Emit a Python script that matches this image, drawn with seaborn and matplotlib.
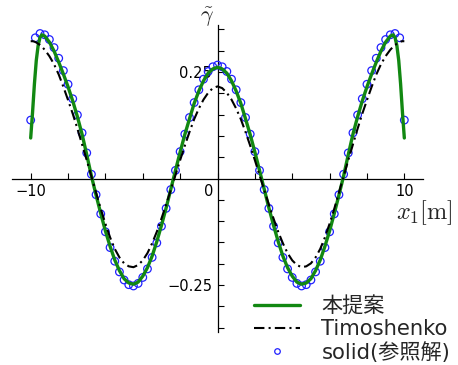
import numpy as np
import matplotlib
matplotlib.use("Agg")
import matplotlib.pyplot as plt
import matplotlib.transforms as mtransforms
from matplotlib.lines import Line2D
import seaborn as sns

# values
x_line = [-10.0, -9.9, -9.8, -9.7, -9.6, -9.5, -9.4, -9.25, -9.0, -8.75, -8.5, -8.25,
          -8.0, -7.75, -7.5, -7.25, -7.0, -6.75, -6.5, -6.25, -6.0, -5.75, -5.5, -5.25,
          -5.0, -4.75, -4.5, -4.25, -4.0, -3.75, -3.5, -3.25, -3.0, -2.75, -2.5, -2.25,
          -2.0, -1.75, -1.5, -1.25, -1.0, -0.75, -0.5, -0.25, 0.0,
          0.25, 0.5, 0.75, 1.0, 1.25, 1.5, 1.75, 2.0, 2.25, 2.5, 2.75, 3.0,
          3.25, 3.5, 3.75, 4.0, 4.25, 4.5, 4.75, 5.0, 5.25, 5.5, 5.75, 6.0,
          6.25, 6.5, 6.75, 7.0, 7.25, 7.5, 7.75, 8.0, 8.25, 8.5, 8.75, 9.0,
          9.25, 9.4, 9.5, 9.6, 9.7, 9.8, 9.9, 10.0]

gamma_prop = [0.095, 0.155, 0.222, 0.277, 0.312, 0.331, 0.337, 0.334, 0.320, 0.299, 0.273, 0.245,
              0.215, 0.182, 0.145, 0.104, 0.056, 0.006, -0.039, -0.082, -0.123, -0.159, -0.191, -0.216,
              -0.235, -0.245, -0.248, -0.243, -0.229, -0.209, -0.182, -0.148, -0.110, -0.069, -0.025, 0.019,
              0.062, 0.103, 0.140, 0.176, 0.205, 0.229, 0.247, 0.257, 0.261,
              0.257, 0.247, 0.229, 0.205, 0.176, 0.140, 0.103, 0.062, 0.019, -0.025, -0.069, -0.110,
              -0.148, -0.182, -0.209, -0.229, -0.243, -0.248, -0.245, -0.235, -0.216, -0.191, -0.159, -0.123,
              -0.082, -0.039, 0.006, 0.056, 0.104, 0.145, 0.182, 0.215, 0.245, 0.273, 0.299, 0.320,
              0.334, 0.337, 0.331, 0.312, 0.277, 0.222, 0.155, 0.095]

gamma_timo = [0.322, 0.322, 0.321, 0.319, 0.316, 0.313, 0.309, 0.302, 0.287, 0.268, 0.244, 0.215,
              0.184, 0.152, 0.117, 0.080, 0.043, 0.005, -0.033, -0.071, -0.106, -0.138, -0.165, -0.185,
              -0.199, -0.206, -0.208, -0.203, -0.192, -0.175, -0.152, -0.125, -0.094, -0.061, -0.027, 0.008,
              0.043, 0.077, 0.109, 0.139, 0.164, 0.185, 0.201, 0.212, 0.216,
              0.212, 0.201, 0.185, 0.164, 0.139, 0.109, 0.077, 0.043, 0.008, -0.027, -0.061, -0.094,
              -0.125, -0.152, -0.175, -0.192, -0.203, -0.208, -0.206, -0.199, -0.185, -0.165, -0.138, -0.106,
              -0.071, -0.033, 0.005, 0.043, 0.080, 0.117, 0.152, 0.184, 0.215, 0.244, 0.268, 0.287,
              0.302, 0.309, 0.313, 0.316, 0.319, 0.321, 0.322, 0.322]

x_solid = [-10.0, -9.75, -9.5, -9.25, -9.0, -8.75, -8.5, -8.25, -8.0, -7.75, -7.5, -7.25,
           -7.0, -6.75, -6.5, -6.25, -6.0, -5.75, -5.5, -5.25, -5.0, -4.75, -4.5, -4.25,
           -4.0, -3.75, -3.5, -3.25, -3.0, -2.75, -2.5, -2.25, -2.0, -1.75, -1.5, -1.25,
           -1.0, -0.75, -0.5, -0.25, 0.0,
           0.25, 0.5, 0.75, 1.0, 1.25, 1.5, 1.75, 2.0, 2.25, 2.5, 2.75, 3.0,
           3.25, 3.5, 3.75, 4.0, 4.25, 4.5, 4.75, 5.0, 5.25, 5.5, 5.75, 6.0,
           6.25, 6.5, 6.75, 7.0, 7.25, 7.5, 7.75, 8.0, 8.25, 8.5, 8.75, 9.0,
           9.25, 9.5, 9.75, 10.0]

gamma_solid = [0.137, 0.330, 0.340, 0.337, 0.326, 0.307, 0.282, 0.253, 0.221, 0.187, 0.149, 0.107,
               0.060, 0.010, -0.038, -0.083, -0.125, -0.162, -0.194, -0.219, -0.238, -0.249, -0.252, -0.246,
               -0.232, -0.212, -0.185, -0.151, -0.112, -0.070, -0.026, 0.019, 0.063, 0.104, 0.143, 0.178,
               0.208, 0.233, 0.251, 0.262, 0.266,
               0.262, 0.251, 0.233, 0.208, 0.178, 0.143, 0.104, 0.063, 0.019, -0.026, -0.070, -0.112,
               -0.151, -0.185, -0.212, -0.232, -0.246, -0.252, -0.249, -0.238, -0.219, -0.194, -0.162, -0.125,
               -0.083, -0.038, 0.010, 0.060, 0.107, 0.149, 0.187, 0.221, 0.253, 0.282, 0.307, 0.326,
               0.337, 0.340, 0.330, 0.137]

labels = ["本提案", "Timoshenko", "solid(参照解)"]
x_major = [-10, 0, 10]
x_minor = [-8, -6, -4, -2, 2, 4, 6, 8]
y_major = [-0.25, 0.25]
y_minor = [-0.35, -0.3, -0.2, -0.15, -0.1, -0.05, 0.05, 0.1, 0.15, 0.2, 0.3, 0.35]

sns.set_theme(style="white")
plt.rcParams['font.family'] = ['DejaVu Sans', 'Noto Sans CJK JP']
plt.rcParams['mathtext.fontset'] = 'cm'
plt.rcParams['axes.unicode_minus'] = True

green = "#128812"
blue = "#2020ff"
dashdot = (0, (5, 2, 1, 2))

fig = plt.figure(figsize=(4.58, 3.65), dpi=100)
ax = fig.add_axes([0.0262, 0.0904, 0.8974, 0.8411])

sns.scatterplot(x=x_solid, y=gamma_solid, ax=ax, marker='o', s=30,
                facecolor='none', edgecolor=blue, linewidth=0.9, zorder=3)
sns.lineplot(x=x_line, y=gamma_prop, ax=ax, color=green, lw=2.4, zorder=4)
sns.lineplot(x=x_line, y=gamma_timo, ax=ax, color='black', lw=1.5,
             linestyle=dashdot, zorder=5)

ax.set_xlim(-11, 11)
ax.set_ylim(-0.36, 0.36)
for s in ['top', 'right']:
    ax.spines[s].set_visible(False)
ax.spines['left'].set_position(('data', 0))
ax.spines['bottom'].set_position(('data', 0))
for s in ['left', 'bottom']:
    ax.spines[s].set_color('black')
    ax.spines[s].set_linewidth(0.9)

ax.set_xticks(x_major)
ax.set_xticklabels(['\u221210', '0', '10'])
ax.set_xticks(x_minor, minor=True)
ax.set_yticks(y_major)
ax.set_yticklabels(['\u22120.25', '0.25'])
ax.set_yticks(y_minor, minor=True)
ax.tick_params(which='both', bottom=True, left=True, direction='in',
               length=4, width=0.8, color='black')
ax.tick_params(axis='both', which='major', labelsize=10.5, labelcolor='black')
ax.tick_params(axis='x', which='major', pad=4)
ax.tick_params(axis='y', which='major', pad=4)

zero_lab = ax.get_xticklabels()[1]
zero_lab.set_ha('right')
zero_lab.set_transform(zero_lab.get_transform() +
                       mtransforms.ScaledTranslation(-3 / 72, 0, fig.dpi_scale_trans))

ax.text(0.474, 1.026, r'$\tilde{\gamma}$', transform=ax.transAxes,
        fontsize=16, ha='center', va='center')
ax.text(1.004, 0.388, r'$x_1[\mathrm{m}]$', transform=ax.transAxes,
        fontsize=17.5, ha='center', va='center')

handles = [Line2D([], [], color=green, lw=2.4),
           Line2D([], [], color='black', lw=1.5, linestyle=dashdot),
           Line2D([], [], color=blue, marker='o', ls='none', markerfacecolor='none',
                  markeredgewidth=0.9, markersize=4)]
fig.legend(handles, labels, loc='lower right', bbox_to_anchor=(0.983, 0.006),
           frameon=False, fontsize=15.2, labelspacing=0.12, handlelength=2.2,
           handletextpad=1.0, borderpad=0, borderaxespad=0)

fig.savefig("out.png", dpi=100)
